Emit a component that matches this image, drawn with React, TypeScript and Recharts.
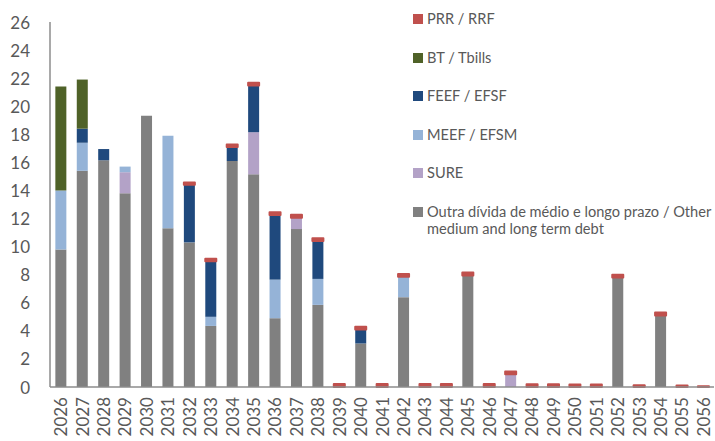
import React from 'react';
import { BarChart, Bar, XAxis, YAxis } from 'recharts';

const years = ['2026','2027','2028','2029','2030','2031','2032','2033','2034','2035','2036','2037','2038','2039','2040','2041','2042','2043','2044','2045','2046','2047','2048','2049','2050','2051','2052','2053','2054','2055','2056'];
const other = [9.8, 15.4, 16.15, 13.8, 19.33, 11.3, 10.3, 4.35, 16.1, 15.15, 4.9, 11.25, 5.85, 0, 3.1, 0, 6.4, 0, 0, 7.95, 0, 0, 0, 0, 0, 0, 7.8, 0, 5.1, 0, 0];
const sure = [0, 0, 0, 1.5, 0, 0, 0, 0, 0, 3.0, 0, 0.8, 0, 0, 0, 0, 0, 0, 0, 0, 0, 0.9, 0, 0, 0, 0, 0, 0, 0, 0, 0];
const meef = [4.2, 2.0, 0, 0.4, 0, 6.6, 0, 0.65, 0, 0, 2.75, 0, 1.85, 0, 0, 0, 1.45, 0, 0, 0, 0, 0, 0, 0, 0, 0, 0, 0, 0, 0, 0];
const feef = [0, 1.0, 0.8, 0, 0, 0, 4.1, 3.95, 1.0, 3.33, 4.6, 0, 2.7, 0, 1.0, 0, 0, 0, 0, 0, 0, 0, 0, 0, 0, 0, 0, 0, 0, 0, 0];
const bt = [7.4, 3.5, 0, 0, 0, 0, 0, 0, 0, 0, 0, 0, 0, 0, 0, 0, 0, 0, 0, 0, 0, 0, 0, 0, 0, 0, 0, 0, 0, 0, 0];
const prr = [0, 0, 0, 0, 0, 0, 0.17, 0.18, 0.17, 0.2, 0.2, 0.22, 0.2, 0.22, 0.2, 0.22, 0.2, 0.22, 0.22, 0.2, 0.22, 0.2, 0.2, 0.2, 0.18, 0.18, 0.2, 0.13, 0.2, 0.1, 0.06];
const yTicks = [0, 2, 4, 6, 8, 10, 12, 14, 16, 18, 20, 22, 24, 26];

const seriesNames: Record<string, string> = {
  prr: 'PRR / RRF',
  bt: 'BT / Tbills',
  feef: 'FEEF / EFSF',
  meef: 'MEEF / EFSM',
  sure: 'SURE',
  other: 'Outra dívida de médio e longo prazo / Other medium and long term debt',
};
const colors: Record<string, string> = {
  prr: '#C0504D',
  bt: '#4F6228',
  feef: '#1F497D',
  meef: '#95B3D7',
  sure: '#B3A2C7',
  other: '#808080',
};

const data = years.map((y, i) => ({
  year: y,
  other: other[i],
  sure: sure[i],
  meef: meef[i],
  feef: feef[i],
  bt: bt[i],
  prr: prr[i],
}));

const FONT = 'Lato, "Open Sans", sans-serif';
const TEXT = '#595959';

const legendOrder = ['prr', 'bt', 'feef', 'meef', 'sure', 'other'];

const LegendBox = () => (
  <div style={{ position: 'absolute', left: 413, top: 10, width: 302, fontFamily: FONT, fontSize: 14.6, color: TEXT, lineHeight: '17.6px' }}>
    {legendOrder.map((k) => (
      <div key={k} style={{ display: 'flex', alignItems: 'flex-start', height: 38.5 }}>
        <div style={{ width: 10, height: 10, background: colors[k], marginTop: 4, marginRight: 4, flexShrink: 0 }} />
        <div style={{ width: 292 }}>{seriesNames[k]}</div>
      </div>
    ))}
  </div>
);

const YTick = (props: any) => {
  const { x, y, payload } = props;
  return (
    <text x={x} y={y} textAnchor="end" dominantBaseline="central" fill={TEXT} fontSize={17} fontFamily={FONT}>
      {payload.value}
    </text>
  );
};

const XTick = (props: any) => {
  const { x, y, payload } = props;
  return (
    <text x={x} y={y} transform={`rotate(-90, ${x}, ${y})`} textAnchor="end" dominantBaseline="central" fill={TEXT} fontSize={17} fontFamily={FONT}>
      {payload.value}
    </text>
  );
};

export default function App() {
  return (
    <div style={{ position: 'absolute', left: 0, top: 0, width: 715, height: 441, background: '#fff' }}>
      <BarChart width={715} height={441} data={data} margin={{ top: 22, right: 1, bottom: 0, left: 0 }} barCategoryGap="25%">
        <XAxis
          dataKey="year"
          interval={0}
          height={54}
          tickLine={false}
          tickSize={6}
          tickMargin={4}
          axisLine={{ stroke: '#8c8c8c', strokeWidth: 1.5 }}
          tick={<XTick />}
        />
        <YAxis
          width={50}
          domain={[0, 26]}
          ticks={yTicks}
          interval={0}
          tickLine={false}
          tickSize={6}
          tickMargin={14}
          axisLine={{ stroke: '#8c8c8c', strokeWidth: 1.5 }}
          tick={<YTick />}
        />
        <Bar dataKey="other" stackId="a" fill={colors.other} isAnimationActive={false} />
        <Bar dataKey="sure" stackId="a" fill={colors.sure} isAnimationActive={false} />
        <Bar dataKey="meef" stackId="a" fill={colors.meef} isAnimationActive={false} />
        <Bar dataKey="feef" stackId="a" fill={colors.feef} isAnimationActive={false} />
        <Bar dataKey="bt" stackId="a" fill={colors.bt} isAnimationActive={false} />
        <Bar dataKey="prr" stackId="a" fill={colors.prr} stroke={colors.prr} strokeWidth={2} strokeLinejoin="round" isAnimationActive={false} />
      </BarChart>
      <LegendBox />
    </div>
  );
}
